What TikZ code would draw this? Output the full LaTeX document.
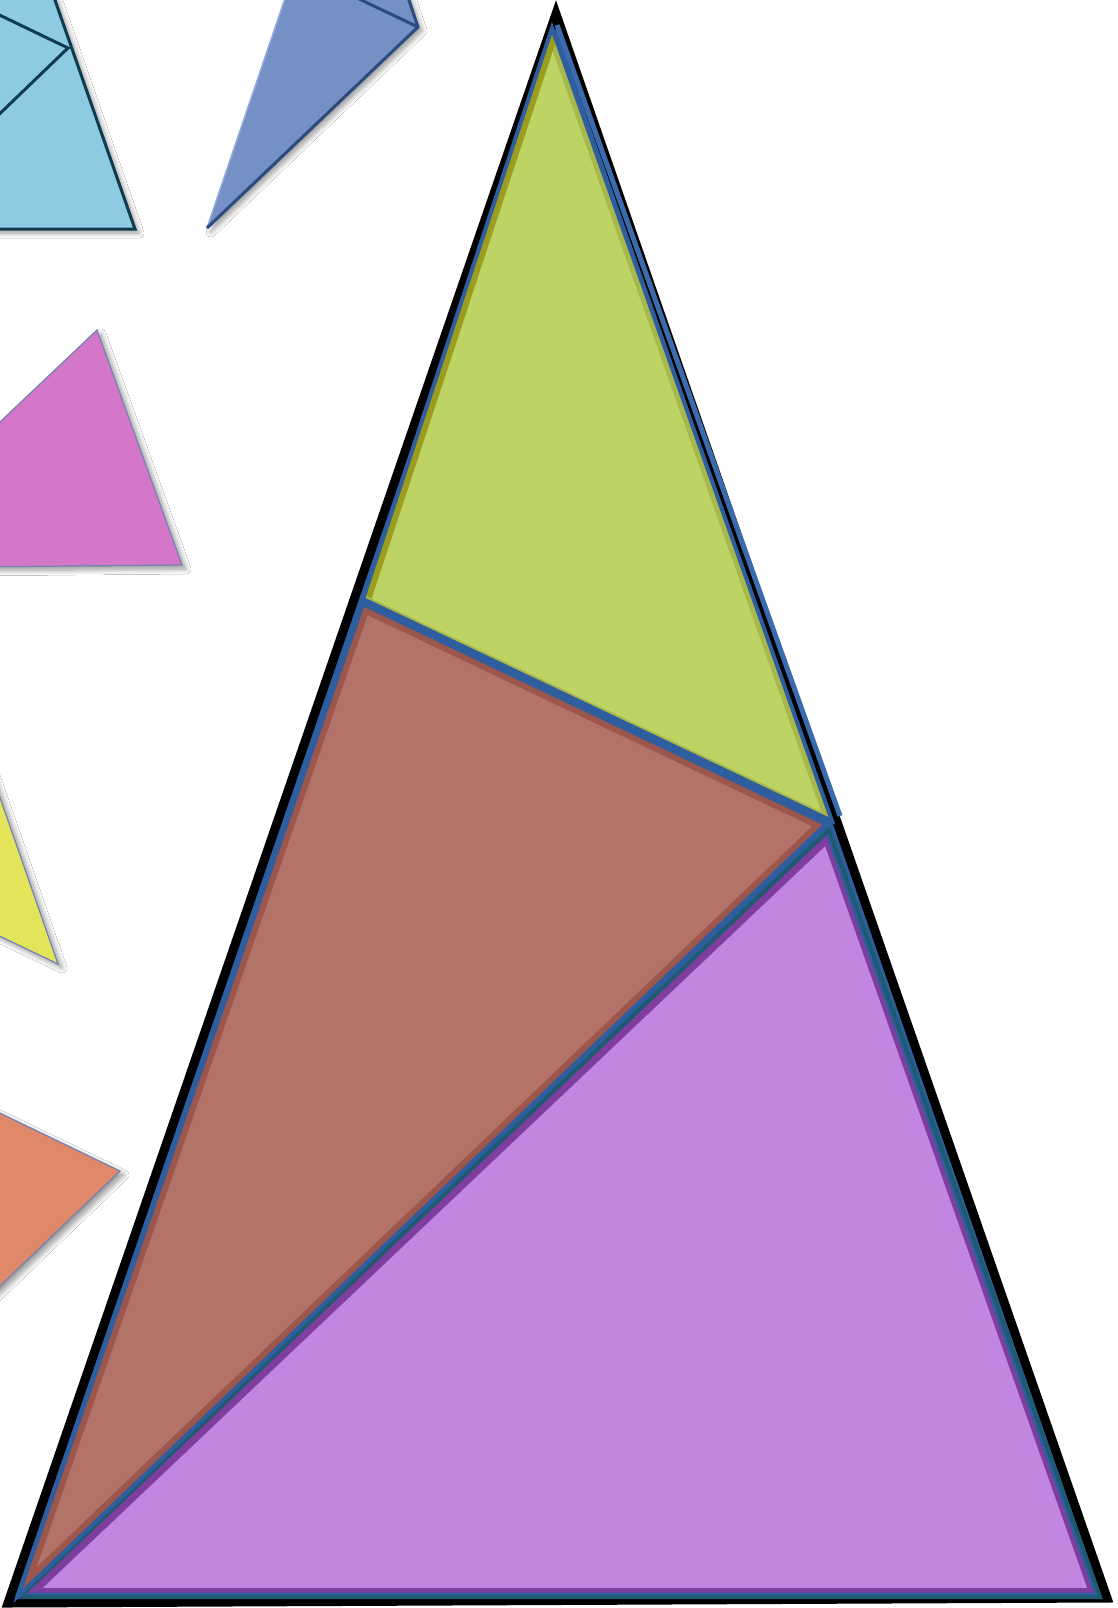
\documentclass[tikz,border=0pt]{standalone}
\usetikzlibrary{shadows.blur}
\definecolor{cyanfill}{HTML}{8DCBE3}
\definecolor{cyanline}{HTML}{0E3B50}
\definecolor{bluefill}{HTML}{7590C4}
\definecolor{blueline}{HTML}{2B4A7E}
\definecolor{bluelight}{HTML}{93AADC}
\definecolor{pinkfill}{HTML}{D577C8}
\definecolor{yellowfill}{HTML}{E3E45A}
\definecolor{orangefill}{HTML}{E0896A}
\definecolor{thinedge}{HTML}{7282B2}
\definecolor{greenfill}{HTML}{BDD464}
\definecolor{greenband}{HTML}{A8B84C}
\definecolor{oliveband}{HTML}{9B9D1E}
\definecolor{brownfill}{HTML}{B47369}
\definecolor{brownband}{HTML}{9C564C}
\definecolor{purplefill}{HTML}{C285E0}
\definecolor{purpleband}{HTML}{7F3E9E}
\definecolor{edgeblue}{HTML}{2F5E9E}
\definecolor{edgeblue2}{HTML}{3B6BAC}
\definecolor{edgeteal}{HTML}{1F5A73}
\tikzset{
  softshadow/.style={blur shadow={shadow xshift=4pt, shadow yshift=-4pt, shadow blur steps=8, shadow blur radius=5pt, shadow opacity=40}},
  smallpiece/.style={softshadow, draw=thinedge, line width=1.2pt, line join=miter},
  cyanpiece/.style={softshadow, fill=cyanfill, draw=cyanline, line width=3pt, line join=miter},
  cyaninner/.style={draw=cyanline, line width=3pt, line join=miter},
  bluepiece/.style={softshadow, fill=bluefill},
  bluedark/.style={draw=blueline, line width=3pt, line join=miter},
  outerblack/.style={draw=black, fill=edgeblue, line width=9pt, line join=miter},
  pieceoutline/.style={draw=edgeblue, line width=4pt, line join=miter},
  tealoutline/.style={draw=edgeteal, line width=4pt, line join=miter}
}
\begin{document}
\begin{tikzpicture}[x=1pt,y=-1pt]
\useasboundingbox (0,0) rectangle (1117,1608);
\clip (0,0) rectangle (1117,1608);
\fill[white] (0,0) rectangle (1117,1608);

% ---- small cyan triangle (top left)
\coordinate (cA) at (6,-140);
\coordinate (cB) at (-120,229);
\coordinate (cC) at (135,229);
\coordinate (cM) at (68,48);
\coordinate (cL) at (-40,-4);
\path[cyanpiece] (cA) -- (cB) -- (cC) -- cycle;
\draw[cyaninner] (cL) -- (cM) -- (cB);

% ---- small blue triangle (top)
\coordinate (bA) at (347,-184);
\coordinate (bB) at (207,228);
\coordinate (bM) at (418,27);
\coordinate (bL) at (296,-31);
\path[bluepiece] (bA) -- (bB) -- (bM) -- cycle;
\draw[draw=bluelight, line width=1.5pt] (bA) -- (bB);
\draw[bluedark] (bB) -- (bM) -- (bA);
\draw[bluedark] (bM) -- (bL);

% ---- pink triangle
\coordinate (kM) at (97,330);
\coordinate (kB) at (-154,568);
\coordinate (kC) at (182,565);
\path[smallpiece, fill=pinkfill] (kM) -- (kB) -- (kC) -- cycle;

% ---- yellow triangle
\coordinate (yA) at (-25,726);
\coordinate (yL) at (-82,897);
\coordinate (yM) at (58,964);
\path[smallpiece, fill=yellowfill] (yA) -- (yL) -- (yM) -- cycle;

% ---- orange triangle
\coordinate (oL) at (-19,1104);
\coordinate (oM) at (120,1171);
\coordinate (oB) at (-122,1403);
\path[smallpiece, fill=orangefill] (oL) -- (oM) -- (oB) -- cycle;

% ---- big black outline
\coordinate (A) at (556,14);
\coordinate (B) at (8,1603);
\coordinate (C) at (1107,1598);
\path[outerblack] (A) -- (B) -- (C) -- cycle;

% ---- purple piece
\coordinate (pM) at (829,830);
\coordinate (pB) at (20,1597);
\coordinate (pC) at (1100,1597);
\fill[purplefill] (pM) -- (pB) -- (pC) -- cycle;
\begin{scope}
  \clip (pM) -- (pB) -- (pC) -- cycle;
  \draw[draw=purpleband, line width=18pt, line join=miter] (pM) -- (pB) -- (pC) -- cycle;
  \draw[draw=edgeblue, line width=9pt, line join=miter] (pB) -- (pC) -- (pM);
\end{scope}
\draw[tealoutline] (pM) -- (pB) -- (pC) -- cycle;

% ---- brown piece
\coordinate (rL) at (363,604);
\coordinate (rM) at (826,824);
\coordinate (rB) at (18,1596);
\fill[brownfill] (rL) -- (rM) -- (rB) -- cycle;
\begin{scope}
  \clip (rL) -- (rM) -- (rB) -- cycle;
  \draw[draw=brownband, line width=16pt, line join=miter] (rL) -- (rM) -- (rB) -- cycle;
\end{scope}
\draw[pieceoutline] (rL) -- (rM) -- (rB) -- cycle;

% ---- green piece
\coordinate (gA) at (552,28);
\coordinate (gL) at (363,599);
\coordinate (gM) at (832,821);
\fill[greenfill] (gA) -- (gL) -- (gM) -- cycle;
\begin{scope}
  \clip (gA) -- (gL) -- (gM) -- cycle;
  \draw[draw=greenband, line width=14pt] (gA) -- (gM);
  \draw[draw=oliveband, line width=16pt] (gA) -- (gL);
  \draw[draw=greenband, line width=8pt] (gL) -- (gM);
\end{scope}
\draw[pieceoutline] (gA) -- (gL) -- (gM) -- cycle;

% ---- extra blue band on the upper right edge
\coordinate (eTop) at (557,25);
\coordinate (eEnd) at (840,816);
\draw[draw=edgeblue2, line width=5pt] (eTop) -- (eEnd);
\end{tikzpicture}
\end{document}
